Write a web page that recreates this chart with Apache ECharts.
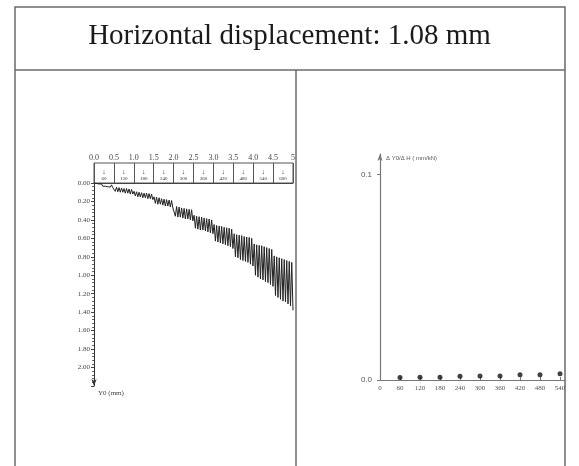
<!DOCTYPE html>
<html><head><meta charset="utf-8">
<script src="https://cdn.jsdelivr.net/npm/echarts@6/dist/echarts.min.js"></script>
<style>html,body{margin:0;padding:0;background:#fff}#c{width:579px;height:466px}</style>
</head><body><div id="c"></div>
<script>
// ---- data ----
const titleText = 'Horizontal displacement: 1.08 mm';
const loadSteps = ['60','120','180','240','300','360','420','480','540','600'];
const timeTicks = [0, 0.5, 1.0, 1.5, 2.0, 2.5, 3.0, 3.5, 4.0, 4.5, 5];
// settlement Y0 (mm), cyclic readings, 8 cycles per load step
const settlement = [0.00,
 0.02,0.005,0.025,0.01,0.03,0.01,0.035,0.015,0.035,0.015,0.04,0.02,0.045,0.02,0.05,0.04,
 0.09,0.045,0.095,0.05,0.10,0.055,0.10,0.06,0.11,0.06,0.11,0.065,0.12,0.07,0.12,0.09,
 0.14,0.095,0.15,0.10,0.15,0.105,0.16,0.11,0.16,0.11,0.17,0.115,0.17,0.12,0.18,0.15,
 0.22,0.155,0.23,0.16,0.23,0.17,0.24,0.175,0.25,0.18,0.25,0.185,0.26,0.19,0.27,0.25,
 0.36,0.255,0.37,0.26,0.37,0.27,0.38,0.275,0.39,0.28,0.39,0.285,0.40,0.29,0.41,0.35,
 0.49,0.36,0.50,0.365,0.51,0.37,0.51,0.38,0.52,0.385,0.53,0.39,0.54,0.40,0.55,0.45,
 0.63,0.46,0.64,0.465,0.65,0.47,0.66,0.48,0.67,0.485,0.68,0.49,0.69,0.50,0.71,0.55,
 0.80,0.56,0.81,0.565,0.83,0.57,0.84,0.58,0.85,0.585,0.86,0.59,0.88,0.60,0.90,0.66,
 1.00,0.67,1.02,0.675,1.04,0.68,1.05,0.69,1.07,0.70,1.08,0.71,1.10,0.72,1.12,0.79,
 1.22,0.80,1.24,0.81,1.26,0.82,1.28,0.83,1.29,0.84,1.31,0.85,1.33,0.86,1.38];
const rateLoads = [60,120,180,240,300,360,420,480,540];
const rateValues = [0.0012,0.0013,0.0013,0.0018,0.0020,0.0020,0.0025,0.0026,0.0030];

// ---- chart ----
const chart = echarts.init(document.getElementById('c'), null, {renderer:'canvas'});
const serif = '"Liberation Serif","DejaVu Serif",serif';
const lineData = settlement.map((v,i)=>[i*5/(settlement.length-1), v]);
const frame = '#6a6a6a';

chart.setOption({
  animation:false,
  backgroundColor:'#fff',
  title:{text:titleText,left:'center',top:17,textStyle:{fontFamily:serif,fontSize:29,fontWeight:'normal',color:'#1a1a1a'}},
  graphic:[
    {type:'rect',shape:{x:15,y:7,width:550,height:480},style:{fill:null,stroke:frame,lineWidth:1.5},silent:true},
    {type:'line',shape:{x1:15,y1:70,x2:565,y2:70},style:{stroke:frame,lineWidth:1.5},silent:true},
    {type:'line',shape:{x1:296,y1:70,x2:296,y2:470},style:{stroke:frame,lineWidth:1.5},silent:true}
  ],
  grid:[
    {left:94,top:183,width:199,height:203},
    {left:94,top:163,width:199,height:20,show:true,borderColor:'#555',borderWidth:1,backgroundColor:'transparent'},
    {left:380,top:154,width:185,height:226}
  ],
  xAxis:[
    {gridIndex:0,type:'value',position:'top',min:0,max:5,interval:0.5,
     axisLine:{show:true,lineStyle:{color:'#444',width:1}},axisTick:{show:false},splitLine:{show:false},
     axisLabel:{margin:21,fontFamily:serif,fontSize:8,color:'#444',formatter:v=>v===5?'5':v.toFixed(1)}},
    {gridIndex:1,type:'category',data:loadSteps,position:'bottom',
     axisLine:{show:false},axisTick:{show:false},
     splitLine:{show:true,lineStyle:{color:'#555',width:1}},
     axisLabel:{inside:true,margin:1,interval:0,color:'#333',fontFamily:serif,
       formatter:v=>'{i|↓}\n{n|'+v+'}',
       rich:{i:{fontSize:7,lineHeight:8,align:'center'},n:{fontSize:5,lineHeight:6,align:'center'}}}},
    {gridIndex:2,type:'value',min:0,max:555,interval:60,
     axisLine:{show:true,lineStyle:{color:'#777',width:1}},
     axisTick:{show:true,inside:true,length:3,lineStyle:{color:'#777'}},splitLine:{show:false},
     axisLabel:{showMaxLabel:false,margin:5,fontFamily:serif,fontSize:7,color:'#555'}}
  ],
  yAxis:[
    {gridIndex:0,type:'value',inverse:true,min:0,max:2.2,interval:0.2,
     name:'Y0 (mm)',nameLocation:'end',nameGap:4,
     nameTextStyle:{fontFamily:serif,fontSize:7,color:'#444',align:'left',verticalAlign:'top',padding:[0,0,0,4]},
     axisLine:{show:true,symbol:['arrow','none'],symbolSize:[4,7],lineStyle:{color:'#333',width:1}},
     axisTick:{show:true,length:3,lineStyle:{color:'#444'}},
     minorTick:{show:true,splitNumber:5,length:2,lineStyle:{color:'#666'}},
     splitLine:{show:false},
     axisLabel:{margin:4,fontFamily:serif,fontSize:7,color:'#444',formatter:v=>v>2.05?'':v.toFixed(2)}},
    {gridIndex:1,type:'value',show:false},
    {gridIndex:2,type:'value',min:0,max:0.11,interval:0.1,
     name:'\u0394 Y0/\u0394 H ( mm/kN)',nameLocation:'end',nameGap:-4,
     nameTextStyle:{fontFamily:'"Liberation Sans",sans-serif',fontSize:6,color:'#555',align:'left',verticalAlign:'middle',padding:[0,0,0,6]},
     axisLine:{show:true,symbol:['none','arrow'],symbolSize:[4,7],lineStyle:{color:'#777',width:1.2}},
     axisTick:{show:true,length:3,lineStyle:{color:'#777'}},splitLine:{show:false},
     axisLabel:{showMaxLabel:false,margin:8,fontFamily:'"Liberation Sans",sans-serif',fontSize:8,color:'#555',formatter:v=>v.toFixed(1)}}
  ],
  series:[
    {type:'line',xAxisIndex:0,yAxisIndex:0,data:lineData,showSymbol:false,symbol:'none',
     lineStyle:{color:'#222',width:1}},
    {type:'scatter',xAxisIndex:2,yAxisIndex:2,data:rateLoads.map((x,i)=>[x,rateValues[i]]),
     symbolSize:5,itemStyle:{color:'#111'}}
  ]
});
</script></body></html>
